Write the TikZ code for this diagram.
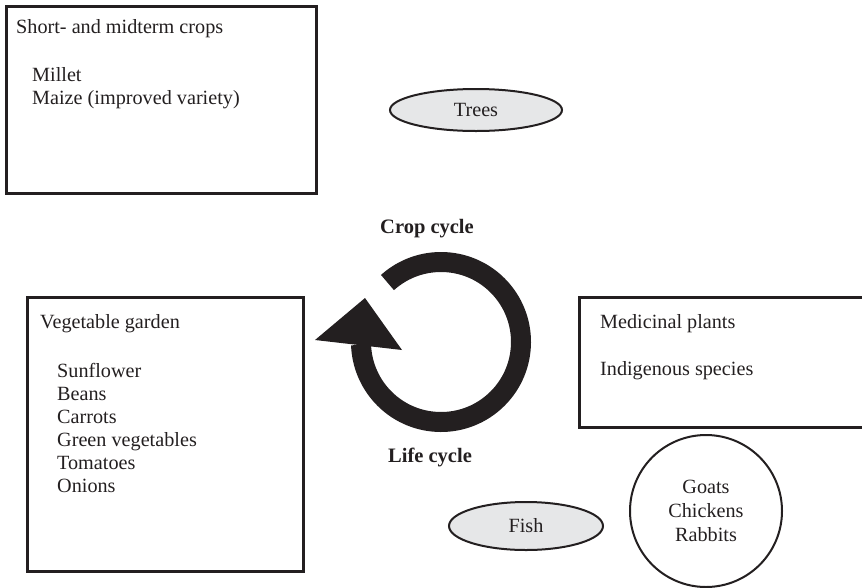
\documentclass[tikz,border=0pt]{standalone}
\usepackage{fontspec}
\setmainfont{Liberation Serif}
\usetikzlibrary{shapes.geometric}
\definecolor{ink}{HTML}{231F20}
\definecolor{fillg}{HTML}{E6E7E8}
\begin{document}
\begin{tikzpicture}[x=1pt,y=-1pt,
  txt/.style={text=ink, font=\fontsize{20.2}{23}\selectfont, inner sep=0pt},
  lbl/.style={txt, anchor=base west},
  boldlbl/.style={text=ink, font=\fontsize{20.5}{23}\selectfont\bfseries, inner sep=0pt, anchor=base},
  boxst/.style={draw=ink, line width=2.5pt, anchor=north west, inner sep=0pt},
  ellst/.style={ellipse, draw=ink, fill=fillg, line width=2pt, txt}]
\useasboundingbox (0,0) rectangle (862,587);
\clip (0,0) rectangle (862,587);

% boxes
\node[boxst, minimum width=310pt, minimum height=187pt] (crops) at (5,5) {};
\node[boxst, minimum width=276pt, minimum height=274pt] (veg) at (26,296) {};
\node[boxst, minimum width=300pt, minimum height=130pt] (med) at (578,296) {};

% crops text
\node[lbl] (t1) at (16,33) {Short- and midterm crops};
\node[lbl] (t2) at (32,81) {Millet};
\node[lbl] (t3) at (32,104) {Maize (improved variety)};

% vegetable text
\node[lbl] (v0) at (40,328) {Vegetable garden};
\node[lbl] (v1) at (57,377) {Sunflower};
\node[lbl] (v2) at (57,400) {Beans};
\node[lbl] (v3) at (57,423) {Carrots};
\node[lbl] (v4) at (57,446) {Green vegetables};
\node[lbl] (v5) at (57,469) {Tomatoes};
\node[lbl] (v6) at (57,492) {Onions};

% medicinal text
\node[lbl] (m1) at (600,328) {Medicinal plants};
\node[lbl] (m2) at (600,375) {Indigenous species};

% ellipses and circle
\node[ellst, minimum width=172pt, minimum height=42pt] (trees) at (476,110) {Trees};
\node[ellst, minimum width=154pt, minimum height=48pt] (fish) at (526,526) {Fish};
\node[circle, draw=ink, line width=2pt, minimum size=152pt, align=center, text=ink,
      font=\fontsize{20.2}{24}\selectfont] (animals) at (706,511) {Goats\\Chickens\\Rabbits};

% cycle labels
\node[boldlbl] (crop) at (427,233) {Crop cycle};
\node[boldlbl] (life) at (430,462) {Life cycle};

% circular arrow
\begin{scope}[shift={(441,342)}, y=1pt]
  \draw[ink, line width=20pt] (132:80) arc[start angle=132, end angle=-178, radius=80];
\end{scope}
\fill[ink] (315,340) -- (365,298) -- (402,350) -- cycle;
\end{tikzpicture}
\end{document}
